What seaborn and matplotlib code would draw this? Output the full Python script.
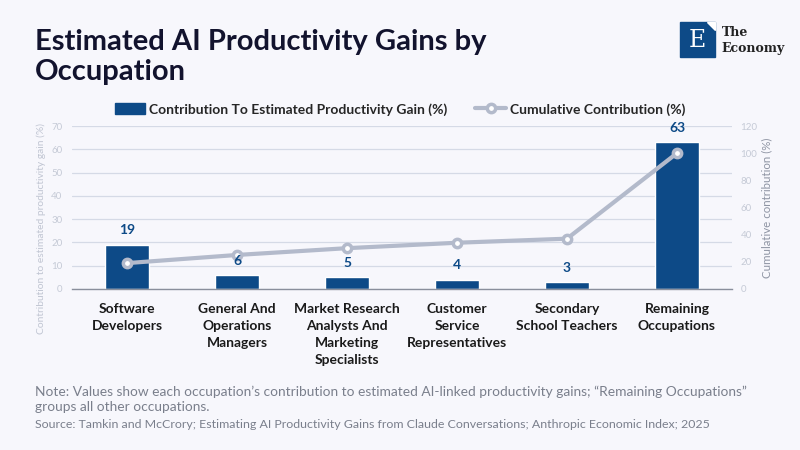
import matplotlib
matplotlib.use("Agg")
import matplotlib.pyplot as plt
from matplotlib.patches import Rectangle, Polygon
from matplotlib.lines import Line2D
import seaborn as sns
import pandas as pd

categories = ["Software\nDevelopers", "General And\nOperations\nManagers",
              "Market Research\nAnalysts And\nMarketing\nSpecialists",
              "Customer\nService\nRepresentatives", "Secondary\nSchool Teachers",
              "Remaining\nOccupations"]
contribution = [19, 6, 5, 4, 3, 63]
cumulative = [19, 25, 30, 34, 37, 100]
left_ticks = [0, 10, 20, 30, 40, 50, 60, 70]
right_ticks = [0, 20, 40, 60, 80, 100, 120]

BG = "#f7f7fc"
BAR = "#0d4a87"
LINE = "#b3bacb"
FONT = "Lato"

sns.set_theme(style="white")
plt.rcParams["font.family"] = [FONT, "DejaVu Sans"]

df = pd.DataFrame({"cat": categories, "val": contribution, "cum": cumulative})

fig = plt.figure(figsize=(8, 4.5), dpi=100, facecolor=BG)
ax = fig.add_axes([0.09, 0.358, 0.825, 0.362])
ax.set_facecolor(BG)
sns.barplot(data=df, x="cat", y="val", color=BAR, width=0.4, saturation=1, ax=ax, zorder=2)
ax.set_ylim(0, 70)
ax.set_xlim(-0.5, 5.5)
ax.set_yticks(left_ticks)
ax.yaxis.grid(True, color="#d5dae6", linewidth=0.9)
ax.set_axisbelow(True)
for s in ["top", "right", "left"]:
    ax.spines[s].set_visible(False)
ax.spines["bottom"].set_color("#8a8f9c")
ax.spines["bottom"].set_linewidth(1)
ax.tick_params(axis="y", length=0, labelsize=7, labelcolor="#c5cad6", pad=7)
ax.tick_params(axis="x", length=0, labelsize=10, pad=10)
for lab in ax.get_xticklabels():
    lab.set_fontweight("bold")
    lab.set_color("#1a1a1a")
    lab.set_linespacing(1.5)
ax.set_xlabel("")
ax.set_ylabel("Contribution to estimated productivity gain (%)", fontsize=7.4,
              color="#c0c5d2")
ax.yaxis.set_label_coords(-0.039, 0.37)

ax2 = ax.twinx()
sns.pointplot(data=df, x="cat", y="cum", ax=ax2, color=LINE, markers="o",
              linewidth=3, markersize=6, markerfacecolor="white",
              markeredgecolor=LINE, markeredgewidth=2.5, zorder=4)
ax2.set_ylim(0, 120)
ax2.set_xlim(-0.5, 5.5)
ax2.set_yticks(right_ticks)
for s in ["top", "right", "left", "bottom"]:
    ax2.spines[s].set_visible(False)
ax2.tick_params(axis="y", length=0, labelsize=7, labelcolor="#c5cad6", pad=6)
ax2.set_ylabel("Cumulative contribution (%)", fontsize=8.3, color="#8e94a3", labelpad=3)
ax2.set_xlabel("")

# value labels drawn on top of the line
for p, v in zip(ax.patches, contribution):
    ax2.annotate(f"{v}", (p.get_x() + p.get_width() / 2, p.get_height()),
                 xycoords=ax.transData,
                 xytext=(0, 6), textcoords="offset points", ha="center", va="bottom",
                 fontsize=10, fontweight="bold", color=BAR, zorder=10)

handles = [Rectangle((0, 0), 1, 1, color=BAR),
           Line2D([0], [0], color=LINE, lw=3, marker="o", markersize=6,
                  markerfacecolor="white", markeredgecolor=LINE, markeredgewidth=2.5)]
fig.legend(handles, ["Contribution To Estimated Productivity Gain (%)",
                     "Cumulative Contribution (%)"],
           loc="center", bbox_to_anchor=(0.5, 0.757), ncol=2, frameon=False,
           prop={"family": FONT, "weight": "bold", "size": 10},
           handlelength=2.2, handleheight=0.8, columnspacing=2.0, handletextpad=0.3)

fig.text(0.044, 0.873, "Estimated AI Productivity Gains by\nOccupation", fontsize=21,
         fontweight="bold", color="#12132e", va="center", ha="left", linespacing=1.22)

fig.text(0.044, 0.113, "Note: Values show each occupation\u2019s contribution to estimated AI-linked productivity gains; \u201cRemaining Occupations\u201d\ngroups all other occupations.",
         fontsize=9.9, color="#7a7f8c", va="center", ha="left", linespacing=1.3)
fig.text(0.044, 0.056, "Source: Tamkin and McCrory; Estimating AI Productivity Gains from Claude Conversations; Anthropic Economic Index; 2025",
         fontsize=8.9, color="#7a7f8c", va="center", ha="left")

# logo
fig.patches.append(Rectangle((0.85, 0.873), 0.044, 0.078, transform=fig.transFigure,
                             color=BAR, zorder=5))
fig.patches.append(Polygon([(0.884, 0.951), (0.894, 0.951), (0.894, 0.933)],
                           closed=True, transform=fig.transFigure, color="white", zorder=6))
fig.text(0.872, 0.909, "E", fontsize=17, color="white", family="DejaVu Serif",
         ha="center", va="center", zorder=7)
fig.text(0.902, 0.928, "The", fontsize=9, color="#222", family="DejaVu Serif",
         ha="left", va="center", fontweight="bold")
fig.text(0.902, 0.893, "Economy", fontsize=9, color="#222", family="DejaVu Serif",
         ha="left", va="center", fontweight="bold")

fig.savefig("out.png", dpi=100, facecolor=BG)
